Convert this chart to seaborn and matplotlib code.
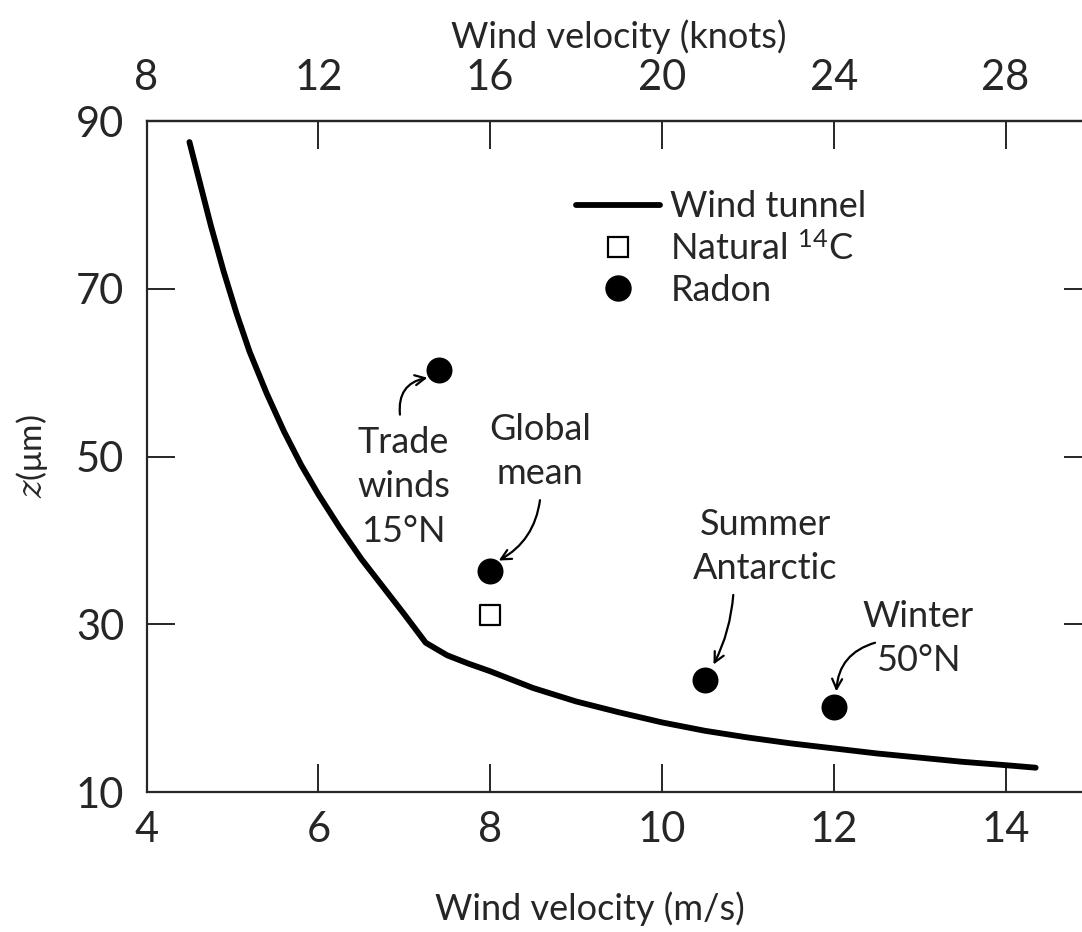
import matplotlib
matplotlib.use("Agg")
import matplotlib.pyplot as plt
import seaborn as sns
import pandas as pd
from matplotlib.lines import Line2D

# wind tunnel curve
tunnel_u = [4.5, 4.6, 4.75, 4.9, 5.05, 5.2, 5.4, 5.6, 5.8, 6.0, 6.25, 6.5, 6.75, 7.0, 7.25,
            7.5, 7.75, 8.0, 8.5, 9.0, 9.5, 10.0, 10.5, 11.0, 11.5, 12.0, 12.5, 13.0, 13.5, 14.0, 14.35]
tunnel_z = [87.5, 83.5, 77.5, 72.0, 67.0, 62.5, 57.5, 53.0, 49.0, 45.5, 41.5, 37.8, 34.5, 31.2, 27.8,
            26.3, 25.3, 24.4, 22.4, 20.8, 19.5, 18.3, 17.3, 16.5, 15.8, 15.2, 14.6, 14.1, 13.6, 13.2, 12.9]

# radon points
radon_names = ["Trade\nwinds\n15°N", "Global\nmean", "Summer\nAntarctic", "Winter\n50°N"]
radon_u = [7.4, 8.0, 10.5, 12.0]
radon_z = [60.3, 36.4, 23.3, 20.1]

# natural 14C
c14_u = [8.0]
c14_z = [31.1]

xticks = [4, 6, 8, 10, 12, 14]
knot_ticks = [8, 12, 16, 20, 24, 28]
yticks = [10, 30, 50, 70, 90]

sns.set_style("ticks")
plt.rcParams['font.family'] = ['Lato', 'DejaVu Sans']
plt.rcParams['mathtext.fontset'] = 'custom'
plt.rcParams['mathtext.rm'] = 'Lato'
plt.rcParams['mathtext.it'] = 'DejaVu Serif:italic'

fig = plt.figure(figsize=(10.82, 9.32), dpi=100)
ax = fig.add_axes([0.1354, 0.1502, 0.8734, 0.7199])

df_t = pd.DataFrame({"u": tunnel_u, "z": tunnel_z})
sns.lineplot(data=df_t, x="u", y="z", ax=ax, color="black", lw=4.2, sort=False, estimator=None)
sns.scatterplot(x=radon_u, y=radon_z, ax=ax, color="black", s=300, marker="o", edgecolor="black", zorder=5)
sns.scatterplot(x=c14_u, y=c14_z, ax=ax, facecolor="white", s=190, marker="s", edgecolor="black",
                linewidth=1.6, zorder=5)

ax.set_xlim(4, 15)
ax.set_ylim(10, 90)
ax.set_xticks(xticks)
ax.set_yticks(yticks)
ax.tick_params(axis="both", direction="in", length=20, width=1.4, labelsize=30)
ax.tick_params(axis="x", pad=14)
ax.tick_params(axis="y", pad=16, right=True)
for s in ax.spines.values():
    s.set_linewidth(1.6)

top = ax.secondary_xaxis("top", functions=(lambda x: 2 * x, lambda x: x / 2))
top.set_xticks(knot_ticks)
top.tick_params(direction="in", length=20, width=1.4, labelsize=30, pad=17)
top.set_xlabel("Wind velocity (knots)", fontsize=26, labelpad=8)
top.spines["top"].set_linewidth(1.6)

ax.set_xlabel("Wind velocity (m/s)", fontsize=26)
ax.set_ylabel(r"$z$(μm)", fontsize=24)
ax.xaxis.set_label_coords((590 - 146.5) / 945, -0.148)
ax.yaxis.set_label_coords(-0.102, (792 - 456) / 671)

# annotations
txt_pos = [(6.99, 46.4), (8.58, 50.6), (11.2, 39.3), (12.98, 28.3)]
arr_start = [(6.95, 55.0), (8.58, 44.8), (10.83, 33.5), (12.48, 27.8)]
arr_end = [(7.27, 59.4), (8.1, 37.6), (10.6, 25.2), (12.03, 22.0)]
rads = [-0.45, -0.25, -0.1, 0.35]
for name, tp, a0, a1, r in zip(radon_names, txt_pos, arr_start, arr_end, rads):
    ax.text(tp[0], tp[1], name, ha="center", va="center", fontsize=26, linespacing=1.42)
    ax.annotate("", xy=a1, xytext=a0,
                arrowprops=dict(arrowstyle="->", lw=1.6, color="black",
                                connectionstyle=f"arc3,rad={r}", shrinkA=0, shrinkB=0,
                                mutation_scale=18))

handles = [Line2D([], [], color="black", lw=4.2),
           Line2D([], [], color="black", marker="s", markerfacecolor="white", markersize=14,
                  markeredgewidth=1.6, lw=0),
           Line2D([], [], color="black", marker="o", markersize=18, lw=0)]
labels = ["Wind tunnel", r"Natural $^{14}$C", "Radon"]
ax.legend(handles, labels, loc="upper left", bbox_to_anchor=(0.455, 0.897), frameon=False,
          fontsize=26, handlelength=2.3, handletextpad=0.3, labelspacing=0.22, borderpad=0,
          borderaxespad=0)

fig.savefig("out.png", dpi=100)
